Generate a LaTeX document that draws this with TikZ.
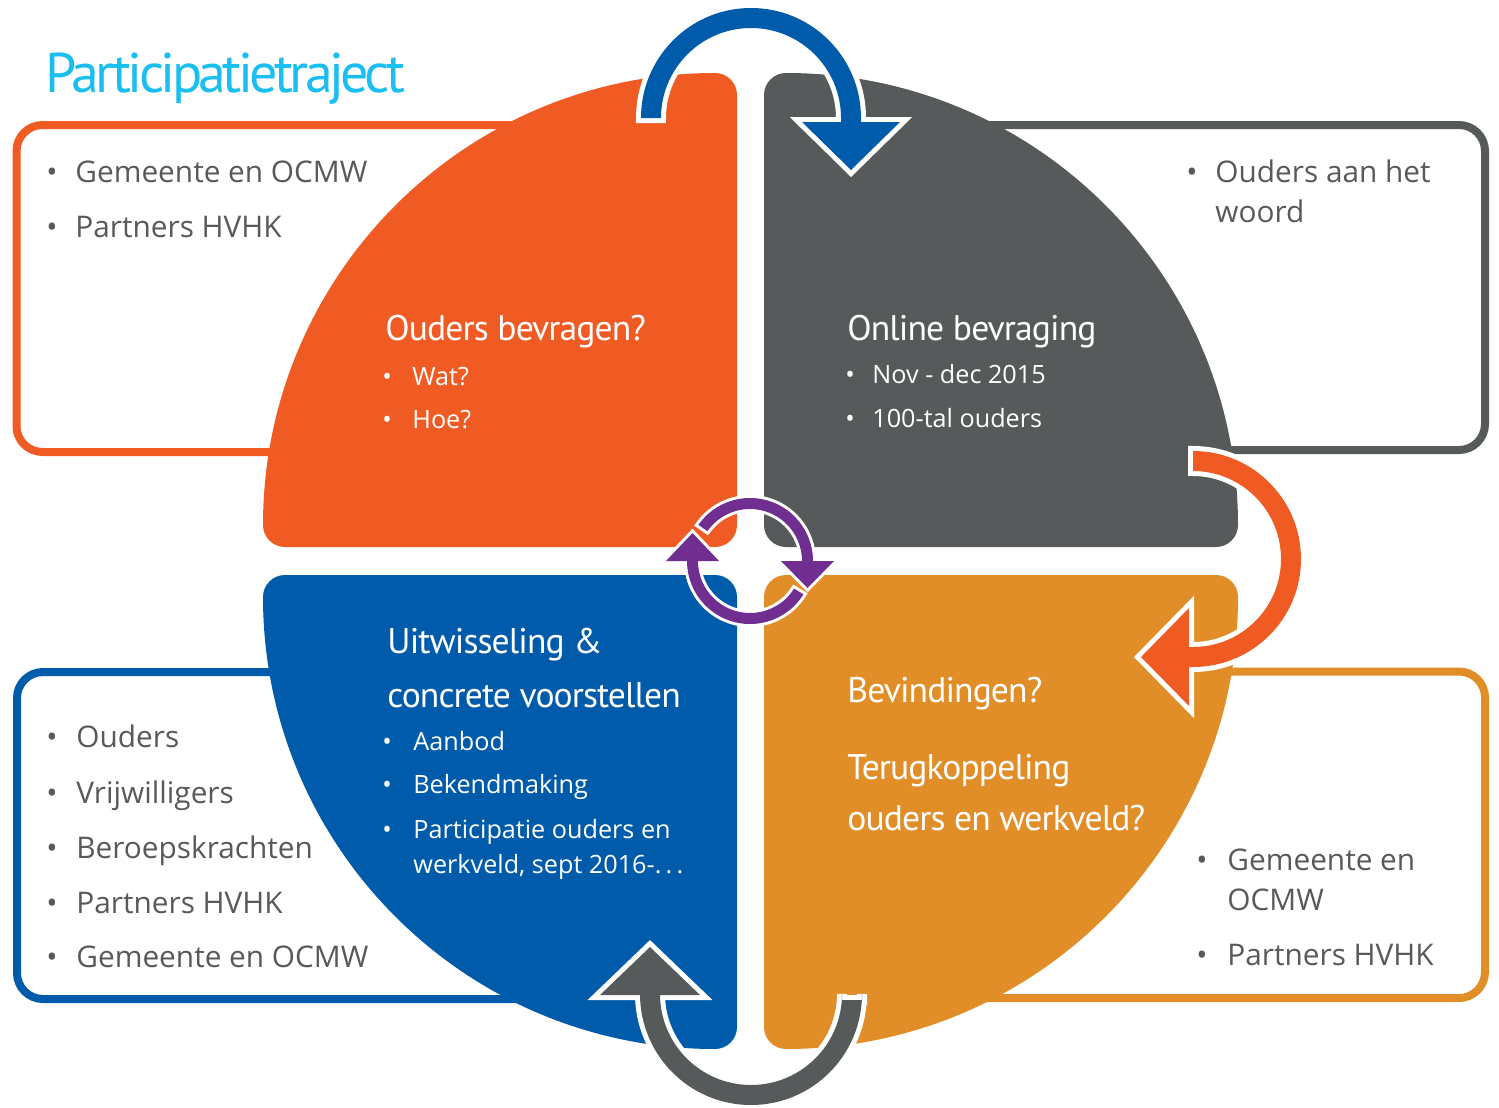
\documentclass[tikz,border=0pt]{standalone}
\usepackage{fontspec}
\setmainfont{Open Sans}
\newfontfamily\bodyfont{Open Sans}
\newfontfamily\headfont[LetterSpace=-2.5]{PT Sans}
\newfontfamily\titlefont[LetterSpace=-6.5]{PT Sans}
\usetikzlibrary{calc}
\definecolor{qorange}{RGB}{240,90,35}
\definecolor{qgray}{RGB}{87,90,91}
\definecolor{qblue}{RGB}{0,91,170}
\definecolor{qyellow}{RGB}{225,142,41}
\definecolor{qpurple}{RGB}{112,46,145}
\definecolor{qcyan}{RGB}{27,190,240}
\definecolor{qtext}{RGB}{88,89,91}
\newcommand\quadshape{(0,-452) arc[start angle=0,end angle=-90,radius=22] arc[start angle=-90,end angle=-180,radius=452] arc[start angle=180,end angle=90,radius=22] -- (-22,0) arc[start angle=90,end angle=0,radius=22] -- cycle}
\newcommand\toparrow{(641,118) arc[start angle=180,end angle=360,radius=110] -- (861,122) -- (900,122) -- (851,170) -- (802,122) -- (841,122) -- (841,118) arc[start angle=0,end angle=-180,radius=90] -- cycle}
\newcommand\botarrow{(862,1000) -- (862,994) arc[start angle=0,end angle=180,radius=111] -- (640,995) -- (600,995) -- (650,947) -- (700,995) -- (660,995) -- (660,994) arc[start angle=180,end angle=0,radius=91] -- (842,1000) -- cycle}
\newcommand\rightarrowpath{(1193,451) arc[start angle=-90,end angle=90,radius=108] -- (1189,667) -- (1189,706) -- (1141,657) -- (1189,608) -- (1189,647) -- (1193,647) arc[start angle=90,end angle=-90,radius=88] -- cycle}
\newcommand\purplelow{($(pc)+(32:63)$) arc[start angle=32,end angle=180,radius=63] -- (666,561) -- (692.5,533) -- (719,561) -- (698,561) arc[start angle=180,end angle=32,radius=52] -- cycle}
\newcommand\purpleup{($(pc)+(-145:63)$) arc[start angle=-145,end angle=0,radius=63] -- (834,561) -- (807.5,588) -- (781,561) -- (802,561) arc[start angle=0,end angle=-145,radius=52] -- cycle}
\begin{document}
\begin{tikzpicture}[x=0.5pt,y=-0.5pt,
  boxline/.style={line width=4pt, rounded corners=13pt, fill=white},
  halo/.style={draw=white, line width=5pt, line join=miter},
  thinhalo/.style={draw=white, line width=3pt, line join=miter},
  boxtxt/.style={anchor=base west, inner sep=0pt, text=qtext, font=\bodyfont\fontsize{14.9pt}{17pt}\selectfont},
  boxbul/.style={anchor=base, inner sep=0pt, text=qtext, font=\bodyfont\fontsize{14.9pt}{17pt}\selectfont},
  qtxt/.style={anchor=base west, inner sep=0pt, text=white, font=\bodyfont\fontsize{12.6pt}{15pt}\selectfont},
  qbul/.style={anchor=base, inner sep=0pt, text=white, font=\bodyfont\fontsize{12.6pt}{15pt}\selectfont},
  qhead/.style={anchor=base west, inner sep=0pt, text=white, font=\headfont\fontsize{17.8pt}{20pt}\selectfont}
]
\useasboundingbox (0,0) rectangle (1499,1108);
\fill[white] (0,0) rectangle (1499,1108);
% outer boxes
\draw[boxline, draw=qorange] (16.5,125) rectangle (700,452);
\draw[boxline, draw=qgray] (800,125) rectangle (1485,450);
\draw[boxline, draw=qblue] (17,672) rectangle (700,999);
\draw[boxline, draw=qyellow] (800,671.5) rectangle (1485,998);
% quadrants
\begin{scope}[shift={(737,547)}] \fill[qorange] \quadshape; \end{scope}
\begin{scope}[shift={(764,547)}, xscale=-1] \fill[qgray] \quadshape; \end{scope}
\begin{scope}[shift={(737,575)}, yscale=-1] \fill[qblue] \quadshape; \end{scope}
\begin{scope}[shift={(764,575)}, xscale=-1, yscale=-1] \fill[qyellow] \quadshape; \end{scope}
% big arrows
\draw[halo] \toparrow; \fill[qblue] \toparrow;
\draw[halo] \botarrow; \fill[qgray] \botarrow;
\draw[halo] \rightarrowpath; \fill[qorange] \rightarrowpath;
% central cycle
\coordinate (pc) at (750,561);
\draw[thinhalo] \purplelow; \fill[qpurple] \purplelow;
\draw[thinhalo] \purpleup; \fill[qpurple] \purpleup;
% title
\node[anchor=base west, inner sep=0pt, text=qcyan, font=\titlefont\fontsize{28pt}{32pt}\selectfont] (title) at (45,92) {Participatietraject};
% top-left box
\node[boxbul] (lb1) at (52,182) {•}; \node[boxtxt] (lt1) at (75,182) {Gemeente en OCMW};
\node[boxbul] (lb2) at (52,237) {•}; \node[boxtxt] (lt2) at (75,237) {Partners HVHK};
% top-right box
\node[boxbul] (rb1) at (1192,182) {•}; \node[boxtxt] (rt1) at (1215,182) {Ouders aan het};
\node[boxtxt] (rt1b) at (1215,222) {woord};
% bottom-left box
\node[boxbul] (bb1) at (52,747) {•}; \node[boxtxt] (bt1) at (76,747) {Ouders};
\node[boxbul] (bb2) at (52,803) {•}; \node[boxtxt] (bt2) at (76,803) {Vrijwilligers};
\node[boxbul] (bb3) at (52,858) {•}; \node[boxtxt] (bt3) at (76,858) {Beroepskrachten};
\node[boxbul] (bb4) at (52,913) {•}; \node[boxtxt] (bt4) at (76,913) {Partners HVHK};
\node[boxbul] (bb5) at (52,967) {•}; \node[boxtxt] (bt5) at (76,967) {Gemeente en OCMW};
% bottom-right box
\node[boxbul] (yb1) at (1202,870) {•}; \node[boxtxt] (yt1) at (1227,870) {Gemeente en};
\node[boxtxt] (yt1b) at (1227,910) {OCMW};
\node[boxbul] (yb2) at (1202,965) {•}; \node[boxtxt] (yt2) at (1227,965) {Partners HVHK};
% orange quadrant
\node[qhead] (oh) at (385,340) {Ouders bevragen?};
\node[qbul] (ob1) at (387,385) {•}; \node[qtxt] (ot1) at (412,385) {Wat?};
\node[qbul] (ob2) at (387,428) {•}; \node[qtxt] (ot2) at (412,428) {Hoe?};
% gray quadrant
\node[qhead] (gh) at (847,340) {Online bevraging};
\node[qbul] (gb1) at (850,383) {•}; \node[qtxt] (gt1) at (872,383) {Nov - dec 2015};
\node[qbul] (gb2) at (850,427) {•}; \node[qtxt] (gt2) at (872,427) {100-tal ouders};
% blue quadrant
\node[qhead] (bh1) at (387,653) {Uitwisseling \&};
\node[qhead] (bh2) at (387,707) {concrete voorstellen};
\node[qbul] (qb1) at (387,750) {•}; \node[qtxt] (qt1) at (413,750) {Aanbod};
\node[qbul] (qb2) at (387,793) {•}; \node[qtxt] (qt2) at (413,793) {Bekendmaking};
\node[qbul] (qb3) at (387,838) {•}; \node[qtxt] (qt3) at (413,838) {Participatie ouders en};
\node[qtxt] (qt3b) at (413,873) {werkveld, sept 2016-.\,.\,.};
% yellow quadrant
\node[qhead] (yh1) at (847,702) {Bevindingen?};
\node[qhead] (yh2) at (847,779) {Terugkoppeling};
\node[qhead] (yh3) at (847,830) {ouders en werkveld?};
\end{tikzpicture}
\end{document}
